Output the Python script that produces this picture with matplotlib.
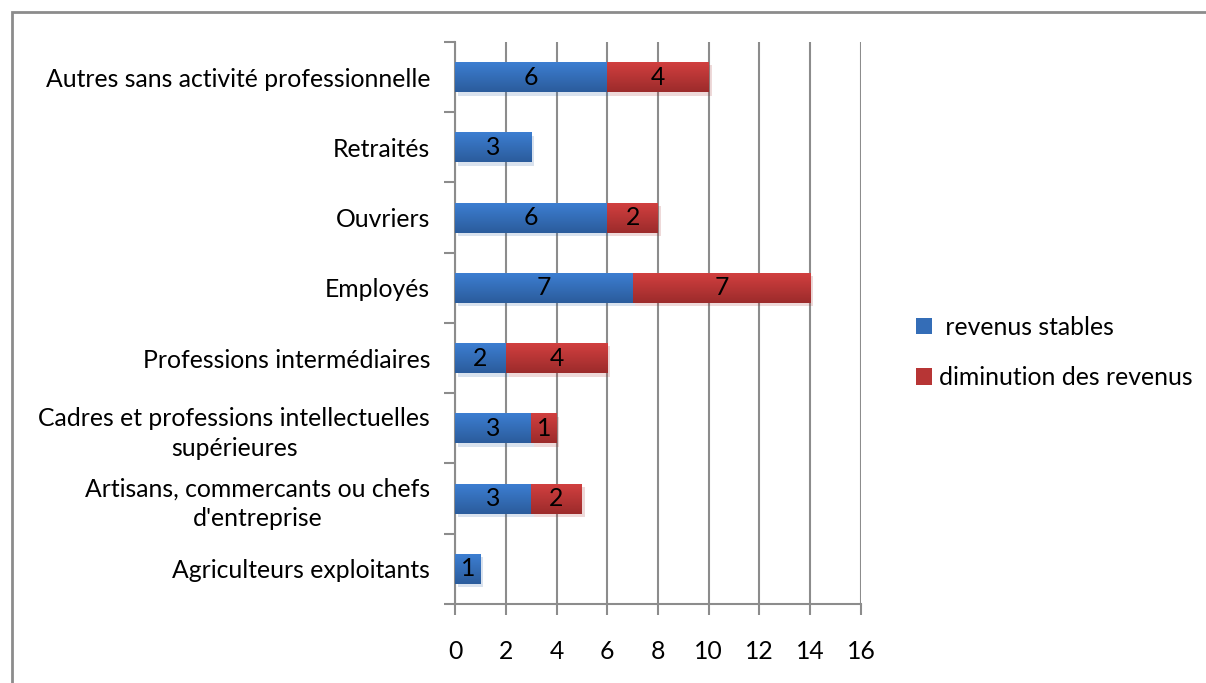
import numpy as np
import matplotlib
matplotlib.use('Agg')
import matplotlib.pyplot as plt
import matplotlib.patches as mpatches
import matplotlib.patheffects as pe
from matplotlib.colors import LinearSegmentedColormap

plt.rcParams['font.family'] = ['Lato', 'DejaVu Sans']

categories = [
    'Agriculteurs exploitants',
    "Artisans, commercants ou chefs\nd'entreprise",
    'Cadres et professions intellectuelles\nsupérieures',
    'Professions intermédiaires',
    'Employés',
    'Ouvriers',
    'Retraités',
    'Autres sans activité professionnelle',
]
stables = [1, 3, 3, 2, 7, 6, 3, 6]
diminution = [0, 2, 1, 4, 7, 2, 0, 4]
series_names = [' revenus stables', 'diminution des revenus']
xticks = [0, 2, 4, 6, 8, 10, 12, 14, 16]

blue_map = LinearSegmentedColormap.from_list('b', ['#3d7fd3', '#2b5c9c'])
red_map = LinearSegmentedColormap.from_list('r', ['#d34040', '#9c2b2b'])

FS = 17.8

fig = plt.figure(figsize=(12.06, 6.83), dpi=100)
ax = fig.add_axes([0.3773, 0.1157, 0.3366, 0.8228])

# outer chart frame
fig.patches.append(mpatches.Rectangle((12 / 1206, -0.05), 1.2, 1 - 12 / 683 + 0.05,
                                      transform=fig.transFigure, fill=False,
                                      edgecolor='#8c8c8c', linewidth=2))

y = np.arange(len(categories))
bar_h = 0.43


def gradient_bars(left, width, cmap):
    bars = ax.barh(y, width, left=left, height=bar_h, color=cmap(0.5), zorder=3,
                   path_effects=[pe.SimplePatchShadow(offset=(2, -2.5), alpha=0.18, rho=0.9),
                                 pe.Normal()])
    grad = np.linspace(0, 1, 64).reshape(-1, 1)
    for b in bars:
        if b.get_width() <= 0:
            continue
        x0, y0 = b.get_x(), b.get_y()
        im = ax.imshow(grad, cmap=cmap, aspect='auto', origin='lower',
                       extent=(x0, x0 + b.get_width(), y0 + b.get_height(), y0),
                       zorder=3.5)
        im.set_clip_path(b)
    return bars


b1 = gradient_bars(0, stables, blue_map)
b2 = gradient_bars(stables, diminution, red_map)

for bars, vals in [(b1, stables), (b2, diminution)]:
    for b, v in zip(bars, vals):
        if v > 0:
            ax.text(b.get_x() + b.get_width() / 2, b.get_y() + b.get_height() / 2, str(v),
                    ha='center', va='center', fontsize=FS, color='black', zorder=5)

ax.set_xlim(0, 16)
ax.set_ylim(-0.5, len(categories) - 0.5)
ax.set_xticks(xticks)
ax.set_xticklabels([str(t) for t in xticks], fontsize=FS)
ax.set_yticks(y)
ax.set_yticklabels(categories, fontsize=FS, ha='right', multialignment='center',
                   linespacing=1.35)
ax.tick_params(axis='y', length=0, pad=18)
ax.set_yticks(np.arange(-0.5, len(categories)), minor=True)
ax.tick_params(axis='y', which='minor', length=8, color='#8c8c8c', width=1.5)
ax.tick_params(axis='x', length=8, color='#8c8c8c', width=1.5, pad=18)
ax.grid(axis='x', color='#8c8c8c', linewidth=1.5, zorder=0)
ax.set_axisbelow(True)
for s in ['top', 'right']:
    ax.spines[s].set_visible(False)
for s in ['left', 'bottom']:
    ax.spines[s].set_color('#8c8c8c')
    ax.spines[s].set_linewidth(1.5)

handles = [mpatches.Patch(facecolor=blue_map(0.5)), mpatches.Patch(facecolor=red_map(0.5))]
fig.legend(handles, series_names, loc='center left', bbox_to_anchor=(0.741, 0.484),
           frameon=False, fontsize=FS, handlelength=0.65, handleheight=0.65,
           handletextpad=0.3, labelspacing=1.1)

fig.savefig('out.png', dpi=100, facecolor='white')
